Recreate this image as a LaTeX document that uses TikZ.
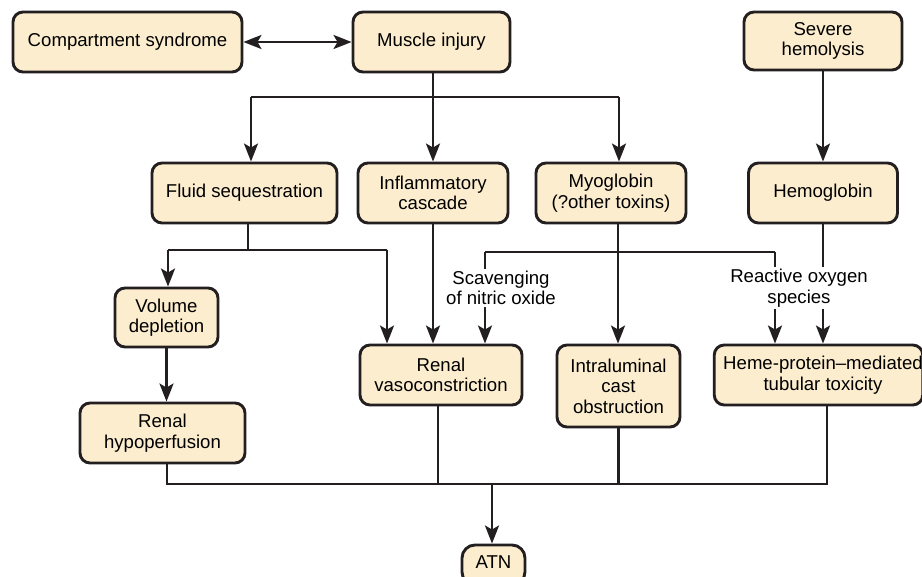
\documentclass[tikz,border=0pt]{standalone}
\usepackage{fontspec}
\setmainfont{Liberation Sans}
\usetikzlibrary{arrows.meta}
\definecolor{boxfill}{RGB}{252,237,206}
\definecolor{ink}{RGB}{35,31,32}
\begin{document}
\begin{tikzpicture}[x=1pt,y=-1pt,
  font=\fontsize{18.6}{20.5}\selectfont,
  box/.style={draw=ink,fill=boxfill,line width=2.9pt,rounded corners=10pt,
    align=center,inner sep=0pt,text=black},
  link/.style={draw=ink,line width=2.7pt},
  tip/.tip={Stealth[length=18pt,width=14pt,inset=4pt]},
  arr/.style={link,-tip},
  darr/.style={link,tip-tip},
  tag/.style={fill=white,align=center,inner xsep=1pt,inner ysep=2pt,text=black}]
\useasboundingbox (0,0) rectangle (922,577);
\clip (0,0) rectangle (922,577);
\fill[white] (0,0) rectangle (922,577);

% first row
\node[box,minimum width=229,minimum height=60] (comp) at (127.5,42) {Compartment syndrome};
\node[box,minimum width=157,minimum height=60] (muscle) at (431.5,42) {Muscle injury};
\node[box,minimum width=158,minimum height=58] (severe) at (823,41) {Severe\\hemolysis};

% second row
\node[box,minimum width=185,minimum height=60] (fluid) at (244.5,193) {Fluid sequestration};
\node[box,minimum width=150,minimum height=60] (infl) at (433,193) {Inflammatory\\cascade};
\node[box,minimum width=150,minimum height=60] (myo) at (611,193) {Myoglobin\\(?other toxins)};
\node[box,minimum width=149,minimum height=60] (hemo) at (823,193) {Hemoglobin};

% third row
\node[box,minimum width=103,minimum height=59] (vol) at (166.5,317.5) {Volume\\depletion};
\node[box,minimum width=162,minimum height=60] (vaso) at (441,375) {Renal\\vasoconstriction};
\node[box,minimum width=123,minimum height=82] (cast) at (618.5,386) {Intraluminal\\cast\\obstruction};
\node[box,minimum width=205,minimum height=60] (heme) at (818.5,375) {\hspace*{9pt}Heme-protein–mediated\\\hspace*{9pt}tubular toxicity};
\node[box,minimum width=165,minimum height=60] (hypo) at (162.5,433) {Renal\\hypoperfusion};

% outcome
\node[box,minimum width=63,minimum height=40,rounded corners=13pt,text depth=0pt] (atn) at (493.5,565) {\raisebox{5pt}{ATN}};

% junction points
\coordinate (tL) at (251,97);
\coordinate (tM) at (433,97);
\coordinate (tR) at (619,97);
\coordinate (fq) at (248,250);
\coordinate (fqL) at (168,250);
\coordinate (fqR) at (387,250);
\coordinate (sL) at (485,252);
\coordinate (sR) at (775,252);
\coordinate (mx) at (618,0);
\coordinate (busL) at (167,484);
\coordinate (busR) at (827,484);
\coordinate (busM) at (492,484);

% connectors
\draw[darr] (comp) -- (muscle);
\draw[link] (muscle.south -| tM) -- (tM);
\draw[link] (tL) -- (tR);
\draw[arr] (tL) -- (tL |- fluid.north);
\draw[arr] (tM) -- (tM |- infl.north);
\draw[arr] (tR) -- (tR |- myo.north);
\draw[arr] (severe) -- (severe.south |- hemo.north);

\draw[link] (fluid.south -| fq) -- (fq);
\draw[link] (fqL) -- (fqR);
\draw[arr] (fqL) -- (fqL |- vol.north);
\draw[arr] (fqR) -- (fqR |- vaso.north);
\draw[arr] (infl) -- (infl.south |- vaso.north);

\draw[arr] (myo.south -| mx) -- (mx |- cast.north);
\draw[link] (sL) -- (sR);
\draw[arr] (sL) -- (sL |- vaso.north);
\draw[arr] (sR) -- (sR |- heme.north);
\draw[arr] (hemo) -- (hemo.south |- heme.north);

\draw[arr] (vol) -- (vol.south |- hypo.north);

\draw[link] (hypo.south -| busL) -- (busL) -- (busR) -- (busR |- heme.south);
\draw[link] (vaso.south -| 438,0) -- (busL -| 438,0);
\draw[link] (cast) -- (cast.south |- busL);
\draw[arr] (busM) -- (busM |- atn.north);

% mechanism labels
\node[tag] (scav) at (501,288) {Scavenging\\of nitric oxide};
\node[tag] (ros) at (799,288) {Reactive oxygen\\species};
\end{tikzpicture}
\end{document}
